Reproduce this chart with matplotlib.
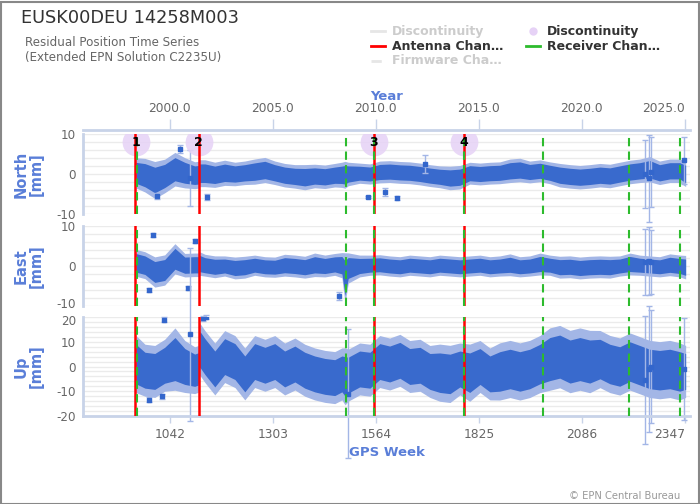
import matplotlib
matplotlib.use('Agg')
import matplotlib.pyplot as plt
from matplotlib.lines import Line2D
from matplotlib.patches import Rectangle
from matplotlib.transforms import ScaledTranslation
import numpy as np

# ---------------- data ----------------
weeks = [956, 979, 1004, 1029, 1055, 1080, 1105, 1114, 1118, 1131, 1156, 1181, 1207, 1232,
         1257, 1283, 1308, 1333, 1359, 1384, 1409, 1435, 1460, 1478, 1486, 1494, 1523, 1549,
         1574, 1599, 1625, 1650, 1676, 1701, 1726, 1752, 1777, 1802, 1828, 1853, 1878, 1904,
         1929, 1954, 1980, 2005, 2030, 2056, 2081, 2106, 2132, 2157, 2182, 2208, 2233, 2258,
         2283, 2309, 2334, 2349]
north_c = [0.3, -0.3, -1.5, -0.5, 1.2, 0.3, -0.3, -0.2, 0.2, 0.2, -0.2, 0.3, 0.0, 0.3,
           0.6, 1.0, 0.3, -0.3, -0.6, -0.8, -0.5, -0.7, -0.3, -0.2, -0.2, 0.0, 0.2, 0.0,
           0.5, 0.6, 0.4, 0.3, 0.0, -0.4, -0.7, -1.0, -0.8, 0.2, 0.0, 0.2, 0.3, 0.8,
           1.0, 0.5, 0.8, 0.3, -0.3, -0.6, -0.8, -0.6, -0.3, -0.5, 0.0, 0.5, 0.8, 1.2,
           0.3, 0.8, 0.8, 0.0]
north_s = [1.8, 2.0, 2.2, 2.0, 2.0, 1.8, 1.6, 1.6, 1.6, 1.6, 1.5, 1.5, 1.4, 1.4,
           1.5, 1.5, 1.4, 1.4, 1.4, 1.5, 1.4, 1.4, 1.4, 1.5, 1.6, 1.4, 1.2, 1.2,
           1.3, 1.3, 1.3, 1.3, 1.3, 1.3, 1.3, 1.4, 1.4, 1.3, 1.3, 1.3, 1.3, 1.4,
           1.4, 1.3, 1.3, 1.3, 1.4, 1.4, 1.4, 1.4, 1.4, 1.4, 1.4, 1.4, 1.4, 1.5,
           1.4, 1.4, 1.4, 1.5]
east_c = [0.8, 0.2, -1.5, -1.0, 1.8, 0.2, 0.3, 0.3, 0.6, 0.2, -0.2, 0.0, -0.5, -0.3,
          0.2, -0.2, -0.3, 0.2, 0.0, -0.3, 0.3, 0.0, 0.4, 0.2, -3.0, -0.5, 0.0, 0.2,
          0.3, 0.0, -0.2, 0.2, 0.0, -0.2, 0.2, 0.0, -0.2, 0.0, 0.2, -0.2, 0.0, 0.3,
          -0.2, 0.0, 0.5, 0.2, -0.3, -0.2, -0.5, -0.3, -0.2, -0.3, 0.0, 0.5, 0.2, 0.0,
          -0.2, 0.3, 0.0, -0.3]
east_s = [1.6, 1.6, 1.8, 1.8, 1.8, 1.4, 1.4, 1.4, 1.4, 1.3, 1.3, 1.2, 1.3, 1.3,
          1.2, 1.2, 1.2, 1.3, 1.3, 1.3, 1.4, 1.3, 1.3, 1.5, 3.0, 1.8, 1.3, 1.2,
          1.2, 1.2, 1.2, 1.2, 1.2, 1.2, 1.2, 1.2, 1.2, 1.2, 1.2, 1.2, 1.2, 1.3,
          1.2, 1.2, 1.3, 1.2, 1.3, 1.3, 1.3, 1.3, 1.3, 1.3, 1.2, 1.3, 1.2, 1.2,
          1.2, 1.3, 1.3, 1.4]
up_c = [1.0, -1.5, -2.0, 0.5, 3.0, 0.0, -1.5, -1.0, 7.0, 4.0, -1.0, 4.0, 2.0, -3.0,
        2.0, 0.5, 2.0, -1.0, 1.0, -1.5, -3.0, -4.0, -4.5, -3.0, -4.0, -3.5, -1.0, -1.5,
        2.0, 1.0, 2.5, 0.0, 0.5, -2.0, -2.5, -3.0, -1.0, -2.5, 0.0, -3.0, -2.0, -1.0,
        -2.0, -1.0, 1.0, 3.0, 4.0, 2.0, 3.0, 2.0, 3.0, 1.0, 0.0, 2.0, 0.5, -1.0,
        -1.5, -1.0, -2.0, -2.0]
up_s = [5.5, 5.0, 5.0, 5.0, 6.0, 5.0, 4.5, 4.5, 5.0, 5.0, 5.0, 5.0, 5.0, 5.0,
        5.0, 5.0, 5.0, 5.0, 5.0, 5.0, 5.0, 5.0, 5.0, 5.0, 5.5, 5.0, 5.0, 5.0,
        5.0, 5.0, 5.0, 5.0, 5.0, 5.0, 5.5, 5.5, 5.0, 5.5, 5.0, 5.0, 5.5, 5.5,
        5.5, 5.5, 5.5, 6.0, 6.0, 6.0, 6.0, 6.0, 5.5, 5.5, 5.5, 5.5, 5.5, 5.5,
        5.5, 5.5, 5.5, 5.0]

# isolated points with error bars (week, value, error)
north_out_w = [1009, 1067, 1092, 1137, 1544, 1587, 1617, 1688, 2246, 2255, 2261, 2344]
north_out_v = [-5.5, 6.2, -1.0, -5.8, -5.75, -4.5, -6.0, 2.5, 0.0, -1.1, 0.5, 3.4]
north_out_e = [0.8, 1.0, 7.0, 0.8, 0.3, 1.0, 0.5, 2.2, 8.6, 10.9, 8.75, 5.9]
east_out_w = [989, 999, 1088, 1105, 1470, 2246, 2255, 2261]
east_out_v = [-6.0, 7.75, -5.5, 6.2, -7.5, 1.0, 1.25, 1.0]
east_out_e = [0.5, 0.5, 0.5, 0.5, 1.0, 8.25, 8.5, 8.1]
up_out_w = [989, 1021, 1026, 1092, 1125, 1133, 1493, 2246, 2255, 2261, 2344]
up_out_v = [-13.5, -12.0, 18.8, 13.0, 19.5, 20.0, -11.0, -5.5, -1.0, 0.0, -1.0]
up_out_e = [1.0, 1.0, 1.0, 35.0, 1.0, 1.0, 26.0, 25.9, 25.5, 23.0, 20.5]

antenna_weeks = [954.5, 1115.5, 1559, 1787]
receiver_weeks = [958, 1488, 1559, 1787, 1987, 2205, 2334]
disc_weeks = [956, 1115.5, 1559, 1787]
disc_labels = ['1', '2', '3', '4']

week_ticks = [1042, 1303, 1564, 1825, 2086, 2347]
year_ticks = [2000.0, 2005.0, 2010.0, 2015.0, 2020.0, 2025.0]

# ---------------- style ----------------
W, H = 700, 504
BLUE = '#3366cc'
LIGHTBLUE = '#a3b6e6'
LABEL_BLUE = '#5a7ed8'
AXIS_COL = '#c8d3e8'
GRID_COL = '#ebebeb'
TICK_TXT = '#666666'
RED = '#ff0000'
GREEN = '#2dbb2d'

fig = plt.figure(figsize=(W / 100, H / 100), dpi=100)


def rect(left, top, right, bottom):
    return [left / W, 1 - bottom / H, (right - left) / W, (bottom - top) / H]


def w2y(w):
    return 2000.0 + (np.asarray(w, dtype=float) - 1042.0) / 52.1775


def y2w(y):
    return 1042.0 + (np.asarray(y, dtype=float) - 2000.0) * 52.1775


panels = [
    ('North\n[mm]', rect(83, 134, 690, 214), (-10, 10), [-10, 0, 10], north_c, north_s,
     north_out_w, north_out_v, north_out_e),
    ('East\n[mm]', rect(83, 226, 690, 306), (-10, 10), [-10, 0, 10], east_c, east_s,
     east_out_w, east_out_v, east_out_e),
    ('Up\n[mm]', rect(83, 317, 690, 416), (-20, 20), [-20, -10, 0, 10, 20], up_c, up_s,
     up_out_w, up_out_v, up_out_e),
]

wk = np.array(weeks, dtype=float)
axes = []
for i, (lab, pos, ylim, yt, c, s, ow, ov, oe) in enumerate(panels):
    ax = fig.add_axes(pos)
    axes.append(ax)
    ax.set_xlim(822, 2360)
    ax.set_ylim(*ylim)
    for g in np.arange(ylim[0], ylim[1] + 0.1, 2):
        ax.axhline(g, color=GRID_COL, lw=1, zorder=0)
    c = np.array(c)
    s = np.array(s)
    ax.fill_between(wk, c - 2.1 * s, c + 2.1 * s, color=LIGHTBLUE, lw=0, zorder=1)
    ax.fill_between(wk, c - 1.45 * s, c + 1.45 * s, color=BLUE, lw=0, zorder=2, alpha=0.95)
    # isolated points with error bars
    ow = np.array(ow, float); ov = np.array(ov, float); oe = np.array(oe, float)
    ax.vlines(ow, ov - oe, ov + oe, color=LIGHTBLUE, lw=1, zorder=2, clip_on=False)
    ax.plot(np.r_[ow, ow], np.r_[ov - oe, ov + oe], ls='none', marker='_', ms=4,
            mew=1, color=LIGHTBLUE, zorder=2, clip_on=False)
    ax.plot(ow, ov, ls='none', marker='s', ms=2.2, color=BLUE, zorder=3)
    # event lines
    for w in antenna_weeks:
        ax.axvline(w, color=RED, lw=1.8, zorder=4)
    for w in receiver_weeks:
        ax.axvline(w, color=GREEN, lw=1.5, dashes=(4, 2.5), zorder=5)
    ax.set_yticks(yt)
    ax.set_yticklabels([str(v) for v in yt])
    ax.tick_params(axis='y', length=0, pad=5, labelsize=8.6, labelcolor=TICK_TXT)
    for sp in ['top', 'right', 'bottom']:
        ax.spines[sp].set_visible(False)
    ax.spines['left'].set_color(AXIS_COL)
    ax.spines['left'].set_linewidth(2)
    ax.set_facecolor('none')
    ylabs = ax.get_yticklabels()
    if i == 1:
        lb = ylabs[0]
        lb.set_transform(lb.get_transform() + ScaledTranslation(0, 2 / 72, fig.dpi_scale_trans))
    if i == 2:
        lb = ylabs[-1]
        lb.set_transform(lb.get_transform() + ScaledTranslation(0, -2 / 72, fig.dpi_scale_trans))
    if i < 2:
        ax.set_xticks([])
    else:
        ax.spines['bottom'].set_visible(True)
        ax.spines['bottom'].set_color(AXIS_COL)
        ax.spines['bottom'].set_linewidth(2)
        ax.set_xticks(week_ticks)
        ax.set_xticklabels([str(t) for t in week_ticks])
        ax.tick_params(axis='x', length=5, width=1, color=AXIS_COL, pad=4,
                       labelsize=8.8, labelcolor=TICK_TXT)
        ax.get_xticklabels()[-1].set_horizontalalignment('right')
    # y label
    cy = pos[1] + pos[3] / 2
    fig.text(29 / W, cy, lab, rotation=90, ha='center', va='center',
             multialignment='center', color=LABEL_BLUE, fontsize=10.5,
             fontweight='bold', linespacing=1.0)

# discontinuity markers
axn = axes[0]
axn.plot(disc_weeks, [8] * len(disc_weeks), ls='none', marker='o', ms=20,
         color='#e6d2f6', alpha=0.85, mec='none', zorder=3)
for w, t in zip(disc_weeks, disc_labels):
    axn.text(w, 8, t, ha='center', va='center', fontsize=9, fontweight='bold',
             color='black', zorder=8)

# year axis on top
sec = axn.secondary_xaxis(1.05, functions=(w2y, y2w))
sec.set_xticks(year_ticks)
sec.set_xticklabels(['%.1f' % y for y in year_ticks])
sec.spines['top'].set_color(AXIS_COL)
sec.spines['top'].set_linewidth(2)
sec.tick_params(axis='x', length=8, width=1, color=AXIS_COL, pad=3,
                labelsize=8.8, labelcolor=TICK_TXT)
sec.get_xticklabels()[-1].set_horizontalalignment('right')

# titles
fig.text(21 / W, 1 - 18 / H, 'EUSK00DEU 14258M003', fontsize=12.8, color='#333333',
         ha='left', va='center')
fig.text(25 / W, 1 - 42 / H, 'Residual Position Time Series', fontsize=8.6,
         color='#666666', ha='left', va='center')
fig.text(25 / W, 1 - 57 / H, '(Extended EPN Solution C2235U)', fontsize=8.6,
         color='#666666', ha='left', va='center')
fig.text(387 / W, 1 - 96 / H, 'Year', fontsize=9.5, color=LABEL_BLUE,
         fontweight='bold', ha='center', va='center')
fig.text(387 / W, 1 - 452 / H, 'GPS Week', fontsize=9.5, color=LABEL_BLUE,
         fontweight='bold', ha='center', va='center')
fig.text(680 / W, 1 - 496 / H, '\u00a9 EPN Central Bureau', fontsize=7.2,
         color='#999999', ha='right', va='center')

# legend (drawn manually)
def fy(y):
    return 1 - y / H

leg = [
    (371, 31, 'line', '#e6e6e6', '-', 'Discontinuity', '#cccccc'),
    (371, 46, 'line', RED, '-', 'Antenna Chan\u2026', '#333333'),
    (371, 61, 'line', '#e6e6e6', '--', 'Firmware Cha\u2026', '#cccccc'),
    (526, 31, 'dot', '#e6d2f6', '', 'Discontinuity', '#333333'),
    (526, 46, 'line', GREEN, '-', 'Receiver Chan\u2026', '#333333'),
]
for x0, y0, kind, col, ls, txt, tcol in leg:
    if kind == 'line':
        fig.add_artist(Line2D([x0 / W, (x0 + 14) / W], [fy(y0), fy(y0)], color=col,
                              lw=2, ls=ls, transform=fig.transFigure))
    else:
        fig.add_artist(Line2D([(x0 + 7) / W], [fy(y0)], marker='o', ms=5, color=col,
                              ls='none', transform=fig.transFigure))
    fig.text((x0 + 21) / W, fy(y0), txt, fontsize=9, fontweight='bold', color=tcol,
             ha='left', va='center')

# outer frame
fig.add_artist(Rectangle((0.5 / W, 0.5 / H), (W - 2) / W, (H - 2) / H,
                         transform=fig.transFigure, fill=False, edgecolor='#888888',
                         lw=1.5))

fig.savefig('out.png', dpi=100)
